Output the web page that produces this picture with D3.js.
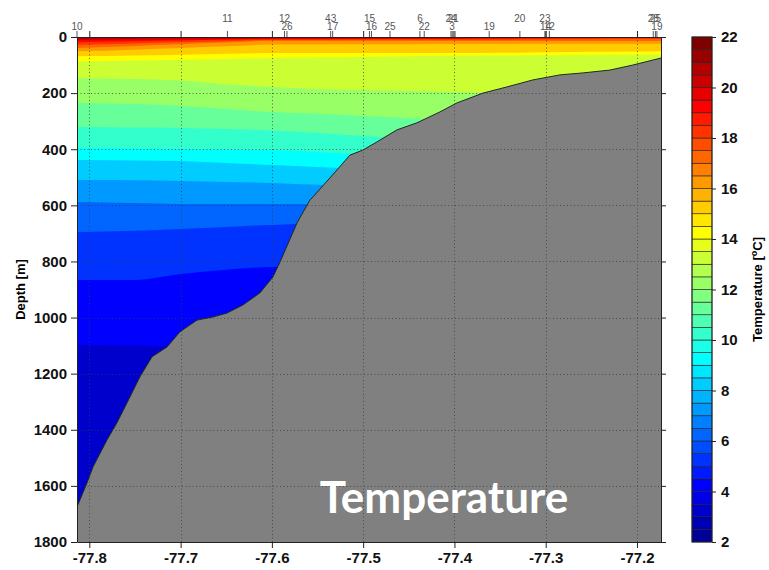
<!DOCTYPE html>
<html>
<head>
<meta charset="utf-8">
<script src="https://cdnjs.cloudflare.com/ajax/libs/d3/7.8.5/d3.min.js"></script>
<style>
body { margin: 0; background: #fff; }
svg { display: block; }
</style>
</head>
<body>
<div id="chart"></div>
<script>
"use strict"
//chart data
const xTicks = [-77.8, -77.7, -77.6, -77.5, -77.4, -77.3, -77.2];
const yTicks = [0, 200, 400, 600, 800, 1000, 1200, 1400, 1600, 1800];
const cbTicks = [2, 4, 6, 8, 10, 12, 14, 16, 18, 20, 22];
const lonRange = [-77.8135, -77.1737];
const depthRange = [0, 1800];
const tempRange = [2, 22];

//depth (m) of each isotherm at a few longitudes
const isoLon = [-77.8135, -77.75, -77.7, -77.65, -77.6, -77.55, -77.5, -77.45, -77.4, -77.35, -77.3, -77.25, -77.2, -77.1737];
const isoLevels = [21, 20, 19, 18, 17, 16, 15, 14, 13, 12, 11, 10, 9, 8, 7, 6, 5, 4];
const isoDepths = [
    [5, 4.5, 4, 4, 3.6, 3.5, 3.4, 3.2, 3, 2.8, 2.5, 2.2, 1.8, 1.5],
    [10.3, 9, 8, 7, 5.7, 5.6, 5.4, 5.2, 5, 4.5, 4, 3.4, 2.8, 2.5],
    [17.8, 15, 12.5, 10, 8, 7.8, 7.5, 7.2, 7, 6.3, 5.6, 4.8, 4, 3.6],
    [27.4, 23, 19, 15, 10.7, 10.5, 10.3, 10.1, 10, 9.5, 9, 8.3, 7.5, 7],
    [39, 32, 26, 20, 14, 14, 14, 14, 14, 14, 14, 14, 14, 14],
    [51, 45, 39, 33, 27, 26.5, 26, 25.5, 25, 25, 24.5, 24.5, 24, 24],
    [69, 66, 63, 60, 57, 57, 57, 57, 57, 56, 54.5, 53, 52, 51],
    [87, 84, 81, 78, 75, 73, 71, 69, 67, 66, 65, 64, 63.5, 63],
    [146, 150, 155, 168, 178, 185, 189, 192, 196, 200, 203, 207, 210, 214],
    [235, 239, 246, 257, 267, 274, 282, 289, 296, 303, 310, 317, 324, 331],
    [321, 323, 324, 328, 333, 342, 353, 364, 374, 385, 395, 405, 415, 425],
    [396, 397, 399, 401, 403, 410, 421, 432, 442, 452, 462, 472, 482, 492],
    [438, 440, 442, 449, 456, 463, 470, 480, 490, 500, 510, 520, 530, 540],
    [510, 511, 513, 517, 520, 527, 535, 545, 555, 565, 575, 585, 595, 605],
    [588, 592, 595, 595, 595, 595, 595, 600, 610, 620, 630, 640, 650, 660],
    [695, 691, 684, 677, 670, 666, 666, 670, 680, 690, 700, 710, 720, 730],
    [866, 866, 845, 830, 820, 820, 820, 830, 840, 850, 860, 870, 880, 890],
    [1098, 1100, 1105, 1110, 1115, 1120, 1125, 1130, 1135, 1140, 1145, 1150, 1155, 1160]
];

//bottom profile
const seabedLon = [-77.8135, -77.8025, -77.7959, -77.7806, -77.7697, -77.7587, -77.7445, -77.7313, -77.7149, -77.7007,
    -77.682, -77.6645, -77.6492, -77.6317, -77.613, -77.5988, -77.5911, -77.5725, -77.5583, -77.555, -77.5287,
    -77.5145, -77.5003, -77.4849, -77.463, -77.4411, -77.4159, -77.3973, -77.3688, -77.3426, -77.3141, -77.2845,
    -77.2593, -77.2298, -77.2046, -77.1737];
const seabedDepth = [1675, 1589, 1532, 1436, 1375, 1304, 1211, 1140, 1105, 1051,
    1009, 998, 984, 955, 912, 855, 802, 663, 581, 570, 474,
    421, 403, 374, 331, 306, 267, 235, 200, 178, 153, 135,
    128, 118, 100, 75];

//CTD stations along the top
const stationNames = ["10", "11", "12", "26", "43", "17", "15", "16", "25", "6", "22", "24", "3", "21", "19", "20", "23", "14", "12", "28", "25", "19"];
const stationLon = [-77.8135, -77.6487, -77.5862, -77.5835, -77.5356, -77.5334, -77.4931, -77.4909, -77.4706, -77.4378, -77.4331,
    -77.4038, -77.4025, -77.4013, -77.3619, -77.3283, -77.3009, -77.3003, -77.296, -77.1822, -77.1798, -77.1782];
const stationRow = [0, 1, 1, 0, 1, 0, 1, 0, 0, 1, 0, 1, 0, 1, 0, 1, 1, 0, 0, 1, 1, 0];

//matlab style jet colormap
function jetMap(m) {
    const n = Math.ceil(m / 4);
    let u = [];
    for (let i = 1; i <= n; i++) u.push(i / n);
    for (let i = 1; i < n; i++) u.push(1);
    for (let i = n; i >= 1; i--) u.push(i / n);
    const g0 = Math.ceil(n / 2) - (m % 4 === 1 ? 1 : 0);
    let map = d3.range(m).map(() => [0, 0, 0]);
    u.forEach(function(v, k) {
        let g = g0 + k + 1;
        let r = g + n, b = g - n;
        if (r >= 1 && r <= m) map[r - 1][0] = v;
        if (g >= 1 && g <= m) map[g - 1][1] = v;
        if (b >= 1 && b <= m) map[b - 1][2] = v;
    });
    return map.map(c => d3.rgb(c[0] * 255, c[1] * 255, c[2] * 255).formatHex());
}

function drawSection() {
    const fullWidth = 769;
    const fullHeight = 570;
    const left = 77, right = 661, top = 37, bottom = 542;
    const font = "'Liberation Sans', Arial, sans-serif";

    const svg = d3.select("#chart").append("svg")
        .attr("width", fullWidth).attr("height", fullHeight);

    const xScale = d3.scaleLinear().domain(lonRange).range([left, right]);
    const yScale = d3.scaleLinear().domain(depthRange).range([top, bottom]);
    const color = d3.scaleQuantize().domain(tempRange).range(jetMap(40));

    svg.append("defs").append("clipPath").attr("id", "plotClip")
        .append("rect").attr("x", left).attr("y", top)
        .attr("width", right - left).attr("height", bottom - top);

    const data = svg.append("g").attr("clip-path", "url(#plotClip)");

    //warmest band first, then each colder band painted below its isotherm
    data.append("rect")
        .attr("x", left).attr("y", top)
        .attr("width", right - left).attr("height", bottom - top)
        .attr("fill", color(isoLevels[0] + 0.01));

    const band = d3.area()
        .x(d => xScale(d[0]))
        .y0(d => yScale(d[1]))
        .y1(yScale(depthRange[1]))
        .curve(d3.curveMonotoneX);

    isoLevels.forEach(function(level, i) {
        let pts = isoLon.map((lon, j) => [lon, isoDepths[i][j]]);
        data.append("path")
            .attr("d", band(pts))
            .attr("fill", color(level - 1 + 0.01));
    });

    //seabed
    const bed = seabedLon.map((lon, j) => [lon, seabedDepth[j]]);
    data.append("path")
        .attr("d", d3.area().x(d => xScale(d[0])).y0(d => yScale(d[1])).y1(yScale(depthRange[1]))(bed))
        .attr("fill", "#808080");
    data.append("path")
        .attr("d", d3.line().x(d => xScale(d[0])).y(d => yScale(d[1]))(bed))
        .attr("fill", "none").attr("stroke", "#1e2b1e").attr("stroke-width", 1);

    //dotted grid
    const grid = svg.append("g").attr("stroke", "#3a3a3a").attr("stroke-width", 1)
        .attr("stroke-dasharray", "1,2.5").attr("opacity", 0.75);
    grid.selectAll(".gx").data(xTicks).enter().append("line")
        .attr("x1", d => Math.round(xScale(d)) + 0.5).attr("x2", d => Math.round(xScale(d)) + 0.5)
        .attr("y1", top).attr("y2", bottom);
    grid.selectAll(".gy").data(yTicks.slice(1, -1)).enter().append("line")
        .attr("y1", d => Math.round(yScale(d)) + 0.5).attr("y2", d => Math.round(yScale(d)) + 0.5)
        .attr("x1", left).attr("x2", right);

    //axes
    function styleAxis(g) {
        g.attr("font-family", font).attr("font-size", 15).attr("font-weight", "bold");
        g.selectAll("path, line").attr("stroke", "#222");
        g.selectAll("text").attr("fill", "#111");
    }
    svg.append("g").attr("transform", "translate(0," + bottom + ")")
        .call(d3.axisBottom(xScale).tickValues(xTicks).tickSizeInner(6).tickSizeOuter(0).tickPadding(4)
            .tickFormat(d => d.toFixed(1)))
        .call(styleAxis);
    svg.append("g").attr("transform", "translate(" + left + ",0)")
        .call(d3.axisLeft(yScale).tickValues(yTicks).tickSizeInner(6).tickSizeOuter(0).tickPadding(4)
            .tickFormat(d => String(d)))
        .call(styleAxis);
    svg.append("g").attr("transform", "translate(0," + top + ")")
        .call(d3.axisTop(xScale).tickValues(xTicks).tickSizeInner(6).tickSizeOuter(0).tickFormat(""))
        .call(styleAxis);
    svg.append("g").attr("transform", "translate(" + right + ",0)")
        .call(d3.axisRight(yScale).tickValues(yTicks).tickSizeInner(5).tickSizeOuter(0).tickFormat(""))
        .call(styleAxis);

    //station ticks and names
    const st = svg.append("g");
    st.selectAll("line").data(stationLon).enter().append("line")
        .attr("x1", d => xScale(d)).attr("x2", d => xScale(d))
        .attr("y1", top).attr("y2", top - 6)
        .attr("stroke", "#555").attr("stroke-width", 1);
    st.selectAll("text").data(stationNames).enter().append("text")
        .attr("x", (d, i) => xScale(stationLon[i]))
        .attr("y", (d, i) => stationRow[i] ? 21.5 : 29.5)
        .attr("text-anchor", "middle")
        .attr("font-family", font).attr("font-size", 10)
        .attr("fill", "#555")
        .text(d => d);

    svg.append("text")
        .attr("transform", "translate(25," + ((top + bottom) / 2) + ") rotate(-90)")
        .attr("text-anchor", "middle")
        .attr("font-family", font).attr("font-size", 13).attr("font-weight", "bold")
        .text("Depth [m]");

    //colour bar
    const cbLeft = 692, cbWidth = 20;
    const cbScale = d3.scaleLinear().domain(tempRange).range([bottom, top]);
    const cb = svg.append("g");
    cb.selectAll("rect").data(d3.range(tempRange[0], tempRange[1], 0.5)).enter().append("rect")
        .attr("x", cbLeft).attr("width", cbWidth)
        .attr("y", d => cbScale(d + 0.5))
        .attr("height", d => cbScale(d) - cbScale(d + 0.5))
        .attr("fill", d => color(d + 0.01))
        .attr("stroke", "#222").attr("stroke-width", 0.6);
    cb.append("rect").attr("x", cbLeft).attr("y", top).attr("width", cbWidth).attr("height", bottom - top)
        .attr("fill", "none").attr("stroke", "#222");
    svg.append("g").attr("transform", "translate(" + (cbLeft + cbWidth) + ",0)")
        .call(d3.axisRight(cbScale).tickValues(cbTicks).tickSizeInner(4).tickSizeOuter(0).tickPadding(5))
        .call(styleAxis)
        .call(g => g.select(".domain").remove());

    const cbLabel = svg.append("text")
        .attr("transform", "translate(762," + ((top + bottom) / 2) + ") rotate(-90)")
        .attr("text-anchor", "middle")
        .attr("font-family", font).attr("font-size", 13).attr("font-weight", "bold");
    cbLabel.append("tspan").text("Temperature [");
    cbLabel.append("tspan").attr("font-size", 9).attr("dy", -5).text("o");
    cbLabel.append("tspan").attr("dy", 5).text("C]");

    //overlay caption
    svg.append("text")
        .attr("x", 444).attr("y", 513)
        .attr("text-anchor", "middle")
        .attr("font-family", "Lato, 'Open Sans', sans-serif").attr("font-size", 44).attr("font-weight", "bold")
        .attr("fill", "#fff")
        .text("Temperature");
}

drawSection();
</script>
</body>
</html>
